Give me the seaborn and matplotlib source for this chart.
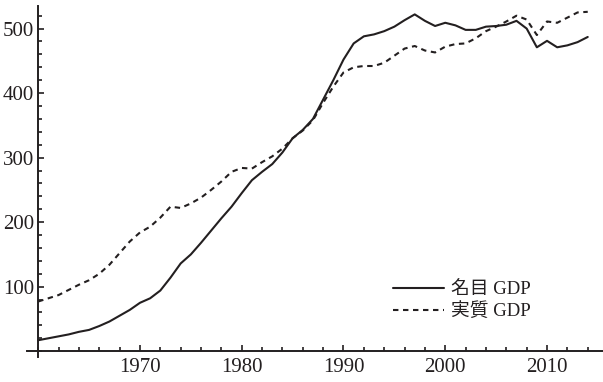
import numpy as np
import pandas as pd
import matplotlib
matplotlib.use("Agg")
import matplotlib.pyplot as plt
from matplotlib.ticker import MultipleLocator
import seaborn as sns

# Japan GDP, trillion yen
years = list(range(1960, 2015))
nominal = [17, 20, 23, 26, 30, 33, 39, 46, 55, 64,
           75, 82, 94, 114, 136, 150, 168, 187, 206, 224,
           245, 265, 278, 290, 308, 330, 343, 360, 390, 420,
           452, 477, 488, 491, 496, 503, 513, 522, 512, 504,
           509, 505, 498, 498, 503, 504, 506, 512, 500, 471,
           481, 471, 474, 479, 487]
real = [77, 82, 87, 95, 103, 110, 120, 134, 152, 170,
        184, 193, 207, 224, 222, 229, 238, 250, 263, 278,
        284, 283, 293, 302, 314, 330, 342, 358, 385, 410,
        432, 440, 442, 442, 447, 458, 469, 473, 466, 463,
        472, 476, 477, 485, 496, 503, 511, 520, 514, 490,
        511, 509, 517, 525, 526]
series_names = ["名目 GDP", "実質 GDP"]

df = pd.concat([
    pd.DataFrame({"year": years, "value": nominal, "series": series_names[0]}),
    pd.DataFrame({"year": years, "value": real, "series": series_names[1]}),
])

sns.set_style("ticks")
plt.rcParams["font.family"] = ["Liberation Serif", "Noto Sans CJK JP"]

ink = "#231f20"
fig = plt.figure(figsize=(6.03, 3.82), dpi=100)
ax = fig.add_axes([27 / 603, 25 / 382, 576 / 603, 351 / 382])

sns.lineplot(data=df, x="year", y="value", style="series", color=ink,
             dashes={series_names[0]: "", series_names[1]: (2.6, 2.2)},
             linewidth=1.5, ax=ax)

ax.set_xlim(1958.9, 2015.5)
ax.set_ylim(-9, 535)
ax.set_xlabel("")
ax.set_ylabel("")

# axes crossing at (1960, 0)
ax.spines["left"].set_position(("data", 1960))
ax.spines["bottom"].set_position(("data", 0))
ax.spines["top"].set_visible(False)
ax.spines["right"].set_visible(False)
for s in ("left", "bottom"):
    ax.spines[s].set_linewidth(1.4)
    ax.spines[s].set_color(ink)

ax.set_xticks([1970, 1980, 1990, 2000, 2010])
ax.xaxis.set_minor_locator(MultipleLocator(2))
ax.set_yticks([100, 200, 300, 400, 500])
ax.yaxis.set_minor_locator(MultipleLocator(20))
ax.tick_params(which="both", direction="in", color=ink, width=1.2,
               labelsize=15, labelcolor=ink)
ax.tick_params(which="major", length=4.5)
ax.tick_params(which="minor", length=2.8)
ax.tick_params(axis="x", pad=5)
ax.tick_params(axis="y", pad=3)

leg = ax.legend(loc="upper left", bbox_to_anchor=(393 / 603, 1 - 281 / 382),
                bbox_transform=fig.transFigure, frameon=False,
                borderpad=0, borderaxespad=0, handlelength=2.7,
                handletextpad=0.4, labelspacing=0.22,
                prop={"family": ["Liberation Serif", "Noto Sans CJK JP"], "size": 13.5})
for t in leg.get_texts():
    t.set_color(ink)

fig.savefig("out.png", dpi=100)
